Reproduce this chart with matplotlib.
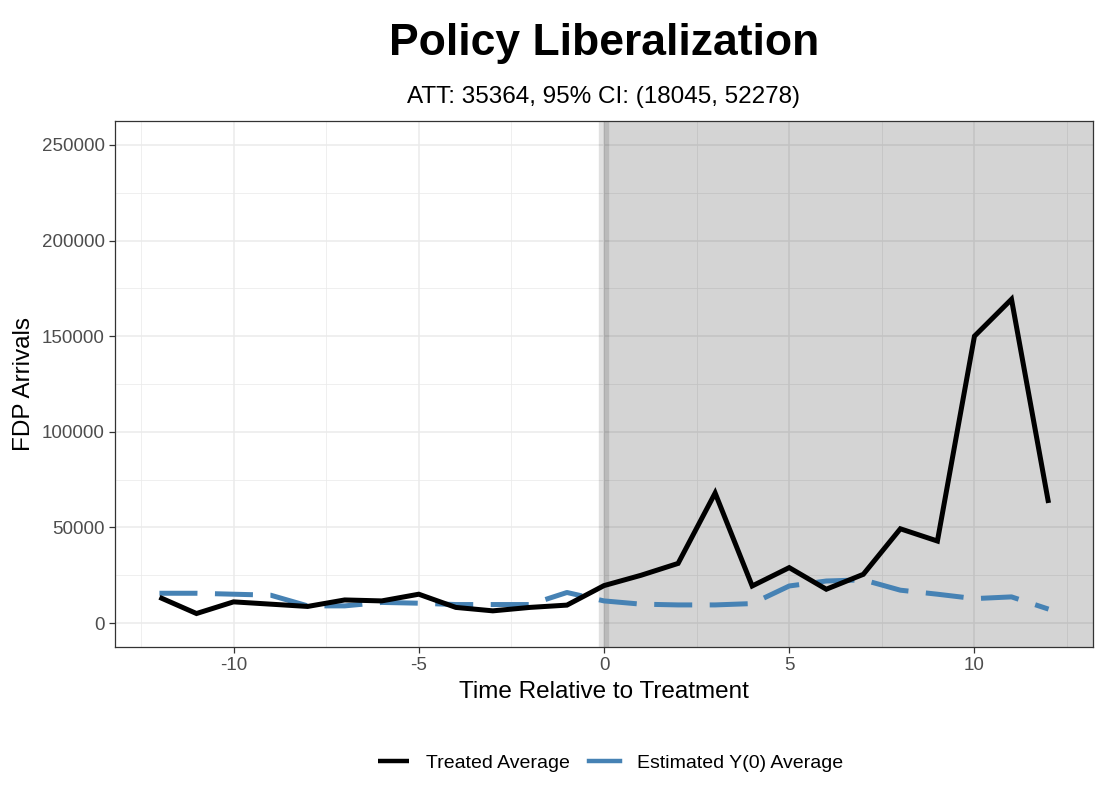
import matplotlib
matplotlib.use("Agg")
import matplotlib.pyplot as plt
from matplotlib.ticker import FixedLocator

plt.rcParams['font.family'] = ['Liberation Sans', 'DejaVu Sans']

time = list(range(-12, 13))
treated = [13500, 5000, 11100, 9900, 8700, 12100, 11600, 15100, 8200, 6400, 8200, 9400,
           19600, 25000, 31200, 68000, 19400, 29000, 17700, 25500, 49300, 42900, 150000, 169300, 62800]
estimated = [15600, 15600, 15100, 14600, 9000, 9000, 10800, 10400, 9700, 9700, 9700, 16000,
             11600, 9900, 9500, 9500, 10200, 19400, 22000, 22600, 17200, 15100, 12800, 13700, 7300]

title = "Policy Liberalization"
subtitle = "ATT: 35364, 95% CI: (18045, 52278)"
xlabel = "Time Relative to Treatment"
ylabel = "FDP Arrivals"
labels = ["Treated Average", "Estimated Y(0) Average"]
xticks = [-10, -5, 0, 5, 10]
yticks = [0, 50000, 100000, 150000, 200000, 250000]

fig = plt.figure(figsize=(11, 7.9), dpi=100)
ax = fig.add_axes([115/1100, 1-647/790, (1093-115)/1100, (647-121)/790])

ax.set_xlim(-13.2, 13.2)
ax.set_ylim(-12500, 262500)

# grid
ax.set_xticks(xticks)
ax.set_yticks(yticks)
ax.xaxis.set_minor_locator(FixedLocator([-12.5, -7.5, -2.5, 2.5, 7.5, 12.5]))
ax.yaxis.set_minor_locator(FixedLocator([25000, 75000, 125000, 175000, 225000]))
ax.grid(True, which='major', color='#ebebeb', lw=1.1, zorder=0)
ax.grid(True, which='minor', color='#ebebeb', lw=0.55, zorder=0)
ax.set_axisbelow(True)

# treatment shading
ax.axvspan(0, 14, color='black', alpha=0.17, lw=0, zorder=1)
ax.axvline(0, color='black', alpha=0.12, lw=7.5, zorder=1.5)

ax.plot(time, treated, color='black', lw=3.6, solid_capstyle='butt', solid_joinstyle='miter',
        label=labels[0], zorder=3)
ax.plot(time, estimated, color='#4682b4', lw=3.6, linestyle=(0, (7.6, 3.5)),
        dash_capstyle='butt', label=labels[1], zorder=2)

for s in ax.spines.values():
    s.set_color('#333333')
    s.set_linewidth(0.9)

ax.tick_params(axis='both', which='major', colors='#333333', labelcolor='#4d4d4d',
               labelsize=13.5, length=4, width=0.9)
ax.tick_params(axis='both', which='minor', length=0)
ax.set_yticklabels([str(v) for v in yticks])
ax.set_xticklabels([str(v) for v in xticks])

ax.set_xlabel(xlabel, fontsize=17.5, color='black', labelpad=5)
ax.set_ylabel(ylabel, fontsize=17.5, color='black', labelpad=5)

fig.text(0.549, 1-43/790, title, fontsize=32, fontweight='bold', ha='center', va='center')
fig.text(0.549, 1-97/790, subtitle, fontsize=17.5, ha='center', va='center')

leg = fig.legend(loc='center', bbox_to_anchor=(0.555, 1-763/790), ncol=2, frameon=False,
                 fontsize=14, handlelength=1.6, columnspacing=1.0, handletextpad=0.85)
for h in leg.legend_handles:
    h.set_linestyle('-')
    h.set_linewidth(3.2)

fig.savefig('out.png', dpi=100)
